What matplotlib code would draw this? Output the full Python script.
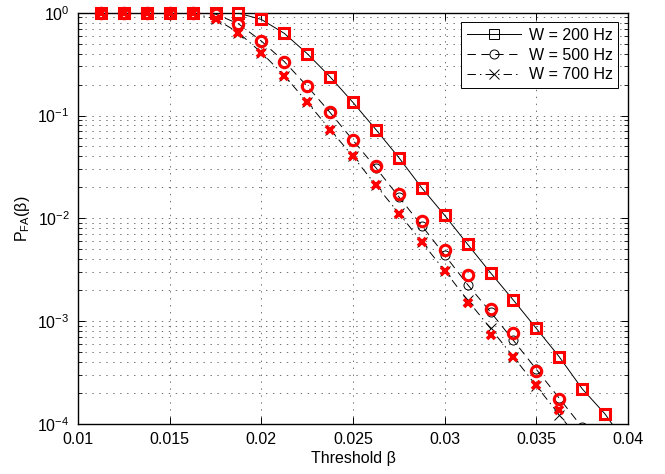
import numpy as np
import matplotlib
matplotlib.use('Agg')
import matplotlib.pyplot as plt
from matplotlib.ticker import LogLocator, NullFormatter, FormatStrFormatter

nan = np.nan

thresholds = [0.01125, 0.0125, 0.01375, 0.015, 0.01625, 0.0175, 0.01875, 0.02,
              0.02125, 0.0225, 0.02375, 0.025, 0.02625, 0.0275, 0.02875, 0.03,
              0.03125, 0.0325, 0.03375, 0.035, 0.03625, 0.0375, 0.03875, 0.04]

theory_200 = [1, 1, 1, 1, 1, 0.998, 0.99, 0.86, 0.63, 0.40, 0.238, 0.134, 0.073,
              0.039, 0.0198, 0.0107, 0.0056, 0.00296, 0.0016, 8.5e-4, 4.5e-4,
              2.2e-4, 1.25e-4, 6.0e-5]
sim_200 = [1, 1, 1, 1, 1, 1, 0.99, 0.86, 0.63, 0.40, 0.238, 0.134, 0.073,
           0.039, 0.0198, 0.0107, 0.0056, 0.00296, 0.0016, 8.5e-4, 4.5e-4,
           2.2e-4, 1.25e-4, nan]

theory_500 = [1, 1, 1, 1, 0.998, 0.97, 0.78, 0.53, 0.335, 0.193, 0.107, 0.0575,
              0.031, 0.0162, 0.0085, 0.0044, 0.00227, 0.00123, 6.5e-4, 3.4e-4,
              1.78e-4, 9.3e-5, 4.9e-5, 2.6e-5]
sim_500 = [1, 1, 1, 1, 1, 0.98, 0.78, 0.53, 0.335, 0.193, 0.108, 0.058,
           0.032, 0.0174, 0.0094, 0.0049, 0.0028, 0.0013, 7.7e-4, 3.3e-4,
           1.75e-4, nan, nan, nan]

theory_700 = [1, 1, 1, 1, 0.985, 0.87, 0.64, 0.41, 0.245, 0.135, 0.073, 0.040,
              0.021, 0.0112, 0.0059, 0.0031, 0.0016, 8.5e-4, 4.5e-4, 2.35e-4,
              1.23e-4, 6.5e-5, 3.4e-5, 1.8e-5]
sim_700 = [1, 1, 1, 1, 1, 0.87, 0.64, 0.41, 0.245, 0.136, 0.073, 0.040,
           0.021, 0.0111, 0.0059, 0.0031, 0.0015, 7.3e-4, 4.5e-4, 2.4e-4,
           1.37e-4, nan, nan, nan]

labels = ['W = 200 Hz', 'W = 500 Hz', 'W = 700 Hz']
x_ticks = [0.01, 0.015, 0.02, 0.025, 0.03, 0.035, 0.04]

plt.rcParams['font.family'] = ['Liberation Sans', 'DejaVu Sans']
plt.rcParams['font.size'] = 11.5
plt.rcParams['lines.scale_dashes'] = False

fig = plt.figure(figsize=(6.65, 4.74), dpi=100)
ax = fig.add_axes([78/665, 1 - 424/474, 550/665, 411.3/474])

x = np.array(thresholds)
styles = [('-', 's'), ((0, (6, 4)), 'o'), ((0, (6, 3, 1, 3)), 'x')]
theories = [theory_200, theory_500, theory_700]
sims = [sim_200, sim_500, sim_700]

handles = []
for (ls, mk), th, lab in zip(styles, theories, labels):
    h, = ax.semilogy(x, th, color='black', linestyle=ls, linewidth=0.7,
                     marker=mk, markersize=6.5, markeredgewidth=0.7,
                     markerfacecolor='none', markeredgecolor='black', label=lab)
    handles.append(h)

red_ms = {'s': 7.5, 'o': 7.5, 'x': 6}
red_mew = {'s': 2.2, 'o': 2.2, 'x': 2.6}
for (ls, mk), sm in zip(styles, sims):
    ax.semilogy(x, sm, linestyle='none', marker=mk, markersize=red_ms[mk],
                markeredgewidth=red_mew[mk], markerfacecolor='none',
                markeredgecolor='red', color='red', clip_on=False, zorder=5)

ax.set_xlim(0.01, 0.04)
ax.set_ylim(1e-4, 1)
ax.set_xticks(x_ticks)
ax.xaxis.set_major_formatter(FormatStrFormatter('%g'))
ax.yaxis.set_major_locator(LogLocator(base=10, numticks=10))
ax.yaxis.set_minor_locator(LogLocator(base=10, subs=np.arange(2, 10), numticks=20))
ax.yaxis.set_minor_formatter(NullFormatter())

ax.tick_params(which='both', direction='in', top=True, right=True, labelsize=11.5)
ax.tick_params(which='major', length=5, width=0.7)
ax.tick_params(which='minor', length=3, width=0.6)
ax.tick_params(axis='x', which='major', pad=6)
ax.tick_params(axis='y', which='major', pad=6)
for s in ax.spines.values():
    s.set_linewidth(1.0)

ax.grid(True, which='major', color='0.35', linestyle=(0, (1, 4)), linewidth=0.6)
ax.grid(True, which='minor', axis='y', color='0.35', linestyle=(0, (1, 4)), linewidth=0.6)

ax.set_xlabel('Threshold β', fontsize=11.5, labelpad=3)
ax.set_ylabel(r'$\mathregular{P_{FA}}$(β)', fontsize=11.5, labelpad=4)

leg = ax.legend(handles=handles, loc='upper right', fontsize=11.5, frameon=True,
                fancybox=False, framealpha=1, edgecolor='black',
                handlelength=3.4, handletextpad=0.5, borderaxespad=0.6,
                labelspacing=0.3, borderpad=0.35)
leg.get_frame().set_linewidth(0.7)

fig.savefig('out.png', dpi=100)
